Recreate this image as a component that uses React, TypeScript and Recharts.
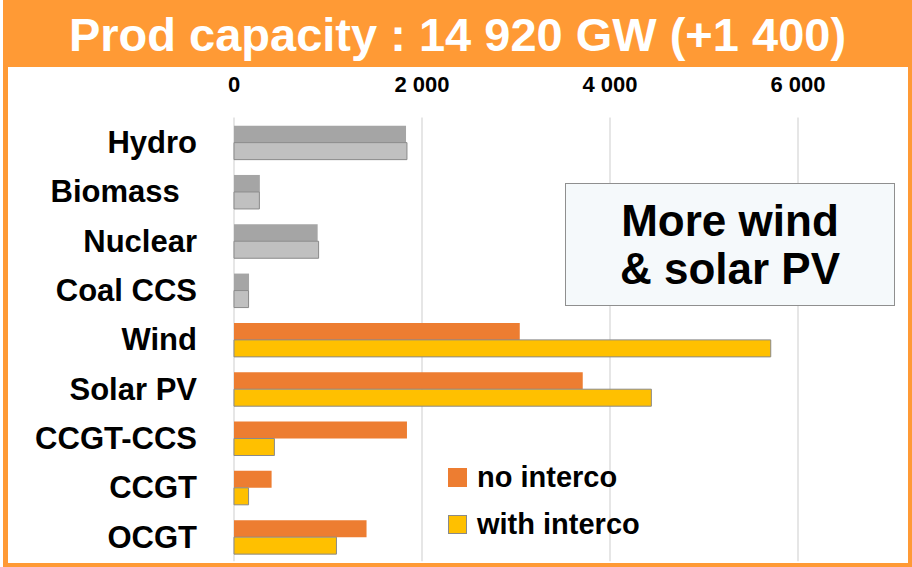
import { BarChart, Bar, XAxis, YAxis, CartesianGrid, Cell, Legend } from 'recharts';

// Installed production capacity by technology (GW)
const CATEGORIES = ['Hydro', 'Biomass\u00a0\u00a0', 'Nuclear', 'Coal CCS', 'Wind', 'Solar PV', 'CCGT-CCS', 'CCGT', 'OCGT'];
const NO_INTERCO = [1830, 275, 890, 160, 3040, 3710, 1840, 400, 1410];
const WITH_INTERCO = [1840, 270, 900, 155, 5710, 4440, 430, 155, 1090];
const X_TICKS = [0, 2000, 4000, 6000];
// technologies that barely move between scenarios are drawn in grey
const GREY_ROWS = ['Hydro', 'Biomass\u00a0\u00a0', 'Nuclear', 'Coal CCS'];

const TITLE = 'Prod capacity : 14 920 GW (+1 400)';
const NOTE = ['More wind', '& solar PV'];

const data = CATEGORIES.map((name, i) => ({
  name,
  noInterco: NO_INTERCO[i],
  withInterco: WITH_INTERCO[i],
}));

const FONT = '"Liberation Sans", Arial, sans-serif';
const FRAME = '#FF9A35';
const ORANGE = '#ED7D31';
const YELLOW = '#FFC000';
const DARK_GREY = '#A5A5A5';
const LIGHT_GREY = '#C0C0C0';
const OUTLINE = '#8A8A8A';

const fmt = (v: number) => String(v).replace(/\B(?=(\d{3})+(?!\d))/g, ' ');

function LegendBox({ payload }: any) {
  return (
    <div>
      {(payload ?? []).map((p: any) => (
        <div key={p.value} style={{ display: 'flex', alignItems: 'center', height: 47.5 }}>
          <span
            style={{
              display: 'inline-block',
              boxSizing: 'border-box',
              width: 19,
              height: 19,
              background: p.color,
              border: `1px solid ${p.payload?.stroke ?? p.color}`,
            }}
          />
          <span style={{ marginLeft: 10, fontSize: 29, fontWeight: 700, color: '#000', lineHeight: 1 }}>
            {p.value}
          </span>
        </div>
      ))}
    </div>
  );
}

export default function App() {
  return (
    <div style={{ position: 'absolute', left: 0, top: 0, width: 912, height: 567, fontFamily: FONT }}>
      <div style={{ position: 'absolute', left: 3, top: 0, width: 909, height: 567, background: FRAME }} />
      <div style={{ position: 'absolute', left: 8, top: 67, width: 900, height: 496, background: '#fff' }} />
      <div
        style={{
          position: 'absolute',
          left: 3,
          top: 0,
          width: 909,
          height: 68,
          display: 'flex',
          alignItems: 'center',
          justifyContent: 'center',
          color: '#fff',
          fontWeight: 700,
          fontSize: 47,
          lineHeight: 1,
          whiteSpace: 'pre',
        }}
      >
        {TITLE}
      </div>

      <div style={{ position: 'absolute', left: 0, top: 0 }}>
        <BarChart
          width={912}
          height={567}
          data={data}
          layout="vertical"
          barCategoryGap="16.5%"
          barGap={0}
          margin={{ top: 87.5, right: 20, bottom: 5.7, left: 0 }}
          style={{ fontFamily: FONT }}
        >
          {/* syncWithTicks keeps the grid off the plot edge at 7 000 */}
          <CartesianGrid horizontal={false} stroke="#D9D9D9" strokeWidth={1.3} syncWithTicks />
          <XAxis
            type="number"
            orientation="top"
            height={30}
            domain={[0, 7000]}
            ticks={X_TICKS}
            tickFormatter={fmt}
            tickLine={false}
            axisLine={false}
            tickSize={0}
            tickMargin={25.5}
            tick={{ fontSize: 22, fontWeight: 700, fill: '#000' }}
          />
          <YAxis
            type="category"
            dataKey="name"
            width={234}
            interval={0}
            tickLine={false}
            axisLine={false}
            tickSize={0}
            tickMargin={37}
            tick={{ fontSize: 31, fontWeight: 700, fill: '#000' }}
          />
          <Legend
            layout="vertical"
            align="center"
            verticalAlign="middle"
            content={<LegendBox />}
            wrapperStyle={{ left: 448, top: 453.5, width: 230 }}
          />
          <Bar dataKey="noInterco" name="no interco" fill={ORANGE} isAnimationActive={false}>
            {data.map((d) => (
              <Cell key={d.name} fill={GREY_ROWS.includes(d.name) ? DARK_GREY : ORANGE} />
            ))}
          </Bar>
          <Bar
            dataKey="withInterco"
            name="with interco"
            fill={YELLOW}
            stroke={OUTLINE}
            strokeWidth={1}
            isAnimationActive={false}
          >
            {data.map((d) => (
              <Cell key={d.name} fill={GREY_ROWS.includes(d.name) ? LIGHT_GREY : YELLOW} />
            ))}
          </Bar>
        </BarChart>
      </div>

      <div
        style={{
          position: 'absolute',
          left: 565,
          top: 183,
          width: 330,
          height: 123,
          boxSizing: 'border-box',
          border: '1.5px solid #8F8F8F',
          background: '#F5F9FB',
          display: 'flex',
          flexDirection: 'column',
          alignItems: 'center',
          justifyContent: 'center',
          fontSize: 44,
          fontWeight: 700,
          lineHeight: '47.5px',
          color: '#000',
        }}
      >
        {NOTE.map((line) => (
          <div key={line}>{line}</div>
        ))}
      </div>
    </div>
  );
}
